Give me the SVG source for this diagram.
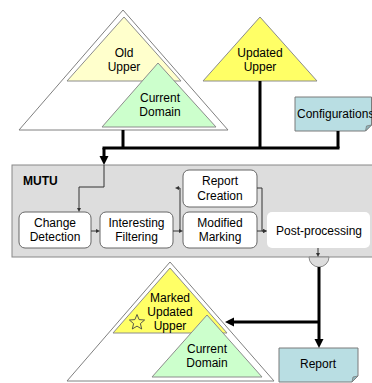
<svg xmlns="http://www.w3.org/2000/svg" width="372" height="383" viewBox="0 0 372 383">
  <defs>
    <style>
      text { font-family: "Liberation Sans", Arial, sans-serif; font-size: 12px; fill: #000; }
      .c { text-anchor: middle; }
      .outer { fill: #fff; stroke: #808080; stroke-width: 1; }
      .ltyel { fill: #FFFFCC; stroke: #8c8c8c; stroke-width: 1; }
      .yel { fill: #FFFF66; stroke: #8c8c8c; stroke-width: 1; }
      .grn { fill: #CCFFCC; stroke: #8c8c8c; stroke-width: 1; }
      .doc { fill: #B9DEE3; stroke: #7a7a7a; stroke-width: 1; }
      .fold { fill: #8fb9bf; stroke: #7a7a7a; stroke-width: 0.8; }
      .step { fill: #fff; stroke: #666; stroke-width: 1; }
      .thick { fill: none; stroke: #000; stroke-width: 3; }
      .thin { fill: none; stroke: #333; stroke-width: 1; }
    </style>
    <marker id="bigArrow" markerUnits="userSpaceOnUse" markerWidth="10" markerHeight="10" refX="0" refY="4.5" orient="auto">
      <path d="M0,0 L9,4.5 L0,9 z" fill="#000"/>
    </marker>
    <marker id="smallArrow" markerUnits="userSpaceOnUse" markerWidth="5" markerHeight="5" refX="0" refY="2" orient="auto">
      <path d="M0,0 L4,2 L0,4 z" fill="#333"/>
    </marker>
  </defs>

  <!-- ontology before update -->
  <g id="old-ontology">
    <polygon class="outer" points="123,10 19,130 228,130"/>
    <polygon class="ltyel" points="124,17 67,81 181,81"/>
    <text class="c" x="124" y="57">Old</text>
    <text class="c" x="124" y="71">Upper</text>
    <polygon class="grn" points="158,63 102,127 216,127"/>
    <text class="c" x="160" y="102">Current</text>
    <text class="c" x="160" y="116">Domain</text>
  </g>

  <g id="updated-upper">
    <polygon class="yel" points="260,17 203,81 317,81"/>
    <text class="c" x="260" y="57">Updated</text>
    <text class="c" x="260" y="71">Upper</text>
  </g>

  <g id="configurations">
    <path class="doc" d="M295,97 H371.5 V125 L365.5,131 H295 Z"/>
    <path class="fold" d="M365.5,131 L366.5,126 L371.5,125 Z"/>
    <text x="297" y="118" font-size="10.5">Configurations</text>
  </g>

  <!-- MUTU tool and its processing steps -->
  <g id="mutu">
    <rect x="12" y="165" width="364" height="92" fill="#DDDDDD" stroke="#888" stroke-width="1"/>
    <text x="23" y="185" font-weight="bold">MUTU</text>
  </g>

  <g id="change-detection">
    <rect class="step" x="19" y="212" width="72" height="36" rx="6"/>
    <text class="c" x="55" y="227">Change</text>
    <text class="c" x="55" y="241">Detection</text>
  </g>

  <g id="interesting-filtering">
    <rect class="step" x="100" y="212" width="73" height="36" rx="6"/>
    <text class="c" x="136.5" y="227">Interesting</text>
    <text class="c" x="136.5" y="241">Filtering</text>
  </g>

  <g id="report-creation">
    <rect class="step" x="183" y="170" width="74" height="37" rx="6"/>
    <text class="c" x="220" y="185">Report</text>
    <text class="c" x="220" y="200">Creation</text>
  </g>

  <g id="modified-marking">
    <rect class="step" x="183" y="212" width="74" height="36" rx="6"/>
    <text class="c" x="220" y="227">Modified</text>
    <text class="c" x="220" y="241">Marking</text>
  </g>

  <g id="post-processing">
    <rect x="267" y="212" width="103" height="36" rx="5" fill="#fff"/>
    <text class="c" x="319" y="235">Post-processing</text>
  </g>

  <g id="merge-point">
    <path d="M309,257 A10,10 0 0 0 329,257 Z" fill="#DDDDDD" stroke="#888" stroke-width="1"/>
  </g>

  <!-- ontology after update -->
  <g id="new-ontology">
    <polygon class="outer" points="170,262 67,381 274,381"/>
    <polygon class="yel" points="170,268 113,333 227,333"/>
    <polygon points="137,314.5 139.1,319.6 144.6,320 140.4,323.6 141.7,329 137,326.1 132.3,329 133.6,323.6 129.4,320 134.9,319.6" fill="none" stroke="#444" stroke-width="0.9"/>
    <text class="c" x="170" y="302">Marked</text>
    <text class="c" x="170" y="316">Updated</text>
    <text class="c" x="170" y="330">Upper</text>
    <polygon class="grn" points="207,315 152,377 262,377"/>
    <text class="c" x="207" y="353">Current</text>
    <text class="c" x="207" y="367">Domain</text>
  </g>

  <g id="report">
    <path class="doc" d="M279,348 H358 V376 L352,382 H279 Z"/>
    <path class="fold" d="M352,382 L353,377 L358,376 Z"/>
    <text class="c" x="318" y="368">Report</text>
  </g>

  <g id="connectors">
    <!-- inputs into MUTU -->
    <path class="thick" d="M123,130 V148"/>
    <path class="thick" d="M260,81 V148"/>
    <path class="thick" d="M338,131 V148"/>
    <path class="thick" d="M102.5,148 H339.5"/>
    <path class="thick" d="M104,148 V156" marker-end="url(#bigArrow)"/>
    <!-- internal flow -->
    <path class="thin" d="M104,165 V187 H79 V208" marker-end="url(#smallArrow)"/>
    <path class="thin" d="M91,231 H96" marker-end="url(#smallArrow)"/>
    <path class="thin" d="M173,231 H179" marker-end="url(#smallArrow)"/>
    <path class="thin" d="M180,231 V188 H179" marker-end="url(#smallArrow)"/>
    <path class="thin" d="M257,188 H262 V231 H263" marker-end="url(#smallArrow)"/>
    <path class="thin" d="M257,231 H263" marker-end="url(#smallArrow)"/>
    <path class="thin" d="M318,248 V253" marker-end="url(#smallArrow)"/>
    <!-- outputs -->
    <path class="thick" d="M319,267 V339" marker-end="url(#bigArrow)"/>
    <path class="thick" d="M319,322 H234" marker-end="url(#bigArrow)"/>
  </g>
</svg>
